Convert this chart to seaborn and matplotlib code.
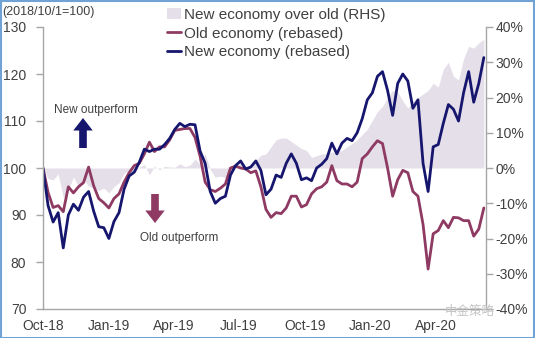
import numpy as np
import pandas as pd
import matplotlib
matplotlib.use("Agg")
import matplotlib.pyplot as plt
import matplotlib.dates as mdates
from matplotlib.patches import Rectangle, Patch, FancyArrowPatch
from matplotlib.lines import Line2D
import seaborn as sns

# ---------------- data (weekly readings) ----------------
start_date = "2018-10-01"
end_date = "2020-06-07"

new_economy = [
    100, 92, 88.5, 90.5, 83, 90, 92.3, 91, 93.8, 95,
    90.8, 87.5, 87.3, 85, 88.6, 90.5, 95.5, 98.3, 99.1, 101.2,
    104, 103.5, 104, 104, 105, 106.3, 108.2, 109.5, 108.8, 109.3,
    109.2, 103.6, 101, 95, 92.5, 93.5, 94, 98.5, 100.5, 101.5,
    99.8, 100.2, 101.5, 99.5, 94.3, 95.5, 98.5, 98, 101, 103,
    101, 97.5, 97.9, 97.3, 100, 100.8, 102, 105.3, 103, 105.3,
    106.3, 105.8, 107.5, 110.5, 114.5, 116, 119.5, 120.5, 116.5, 111.2,
    118, 120, 118.5, 112.7, 114.5, 101, 95, 104.5, 105, 109.5,
    113.5, 112.5, 110, 116, 120.5, 114, 118, 123.5,
]
old_economy = [
    100, 94.8, 91.6, 92, 90.7, 96, 94.7, 96, 96.9, 100.2,
    96.2, 93.5, 92.6, 91.5, 93.5, 94.5, 97, 99, 100.5, 101,
    103, 105.5, 103.5, 104.5, 104.5, 106, 108, 108.2, 108.4, 108.4,
    106.5, 102.5, 97, 95.4, 95, 95.7, 96.6, 100, 100.4, 100,
    99.8, 99, 99.4, 96, 91.2, 89.5, 90.5, 90.3, 91.5, 94,
    94, 91.7, 92.2, 94.5, 95.6, 96, 97, 100.5, 97.3, 96.6,
    96.6, 96, 97, 102, 103, 104.5, 105.8, 105.2, 100, 94,
    97.5, 99.5, 99, 95, 94, 88, 78.5, 86, 86.7, 88.8,
    87.3, 89.5, 89.4, 88.8, 88.8, 85.5, 87, 91.5,
]
new_over_old = [
    0, -3, -3.4, -1.6, -8.5, -6.3, -2.5, -5.2, -3.2, -5.2,
    -5.6, -6.4, -5.7, -7.1, -5.2, -4.2, -1.5, -0.7, -1.4, 0.2,
    1, -1.9, 0.5, -0.5, 0.5, 0.3, 0.2, 1.2, 0.4, 0.8,
    2.5, 1.1, 4.1, -0.4, -2.6, -2.3, -2.7, -1.5, 0.1, 1.5,
    0, 1.2, 2.1, 3.6, 4, 6, 8, 8.5, 8.5, 7.5,
    6.5, 5.5, 5, 3, 3.5, 4, 4, 4.5, 4.5, 5,
    6, 7, 8, 9.5, 11, 13.5, 16, 17.5, 20, 22,
    21.5, 19, 17, 19, 20, 21, 22, 24, 23, 28,
    30, 26, 25, 31, 34.5, 34, 35.5, 36.5,
]
left_ticks = [70, 80, 90, 100, 110, 120, 130]
right_ticks = [-40, -30, -20, -10, 0, 10, 20, 30, 40]

dates = pd.date_range(start_date, end_date, periods=len(new_economy))
df = pd.DataFrame({"date": dates, "new": new_economy, "old": old_economy,
                   "ratio": new_over_old})

# ---------------- style ----------------
sns.set_style("white")
plt.rcParams["font.family"] = ["Liberation Sans", "DejaVu Sans"]

NAVY = "#16166e"
MAROON = "#8e3a63"
AREA = "#e4dfe9"
GREY_TXT = "#404040"
SPINE = "#a6a6a6"
LW = 2.0

W, H = 535, 338
fig = plt.figure(figsize=(W / 100, H / 100), dpi=100)
ax = fig.add_axes([43 / W, 1 - 309 / H, (486 - 43) / W, (309 - 27) / H])
ax_r = ax.twinx()
ax.set_zorder(ax_r.get_zorder() + 1)
ax.patch.set_visible(False)

# area on right axis
ax_r.fill_between(df["date"], 0, df["ratio"], color=AREA, lw=0)
ax_r.set_ylim(-40, 40)
ax_r.set_yticks(right_ticks)
ax_r.set_yticklabels([f"{v}%" for v in right_ticks])

# lines on left axis
sns.lineplot(data=df, x="date", y="old", ax=ax, color=MAROON, lw=LW)
sns.lineplot(data=df, x="date", y="new", ax=ax, color=NAVY, lw=LW)
ax.set_ylim(70, 130)
ax.set_yticks(left_ticks)
ax.set_xlim(pd.Timestamp("2018-10-01"), pd.Timestamp("2020-06-10"))
ax.xaxis.set_major_locator(mdates.MonthLocator(bymonth=[1, 4, 7, 10]))
ax.xaxis.set_major_formatter(mdates.DateFormatter("%b-%y"))
ax.set_xlabel("")
ax.set_ylabel("")

for a in (ax, ax_r):
    for s in a.spines.values():
        s.set_visible(False)
ax.spines["left"].set_visible(True)
ax.spines["bottom"].set_visible(True)
ax_r.spines["right"].set_visible(True)
for s in (ax.spines["left"], ax.spines["bottom"], ax_r.spines["right"]):
    s.set_color(SPINE)
    s.set_linewidth(1.0)

ax.tick_params(axis="y", which="major", direction="out", length=5, width=1,
               color=SPINE, labelsize=10, labelcolor=GREY_TXT, pad=7)
ax.tick_params(axis="x", which="major", direction="out", length=4, width=1,
               color=SPINE, labelsize=10, labelcolor=GREY_TXT, pad=3)
ax_r.tick_params(axis="y", which="major", direction="out", length=5, width=1,
                 color=SPINE, labelsize=10, labelcolor=GREY_TXT, pad=2)

# legend
handles = [
    Patch(facecolor=AREA, edgecolor="none", label="New economy over old (RHS)"),
    Line2D([], [], color=MAROON, lw=LW, label="Old economy (rebased)"),
    Line2D([], [], color=NAVY, lw=LW, label="New economy (rebased)"),
]
fig.legend(handles=handles, loc="upper left",
           bbox_to_anchor=(158 / W, 1 + 1 / H), frameon=False,
           fontsize=11, handlelength=0.9, handletextpad=0.2,
           labelspacing=0.3, borderpad=0.1, labelcolor=GREY_TXT)

# texts
fig.text(2 / W, 1 - 12 / H, "(2018/10/1=100)", fontsize=9, color=GREY_TXT,
         va="center", ha="left")
fig.text(96 / W, 1 - 110 / H, "New outperform", fontsize=8.5, color=GREY_TXT,
         va="center", ha="center")
fig.text(179 / W, 1 - 238 / H, "Old outperform", fontsize=8.5, color=GREY_TXT,
         va="center", ha="center")
fig.text(470 / W, 1 - 311 / H, "中金策略", fontsize=9, color="#c4c4c4",
         va="center", ha="center", family=["Noto Sans CJK SC", "DejaVu Sans"])

# arrows
arrow_kw = dict(arrowstyle="simple,head_length=0.9,head_width=1.4,tail_width=0.55",
                mutation_scale=10, shrinkA=0, shrinkB=0, lw=0)
fig.add_artist(FancyArrowPatch(
    (83 / W, 1 - 148 / H), (83 / W, 1 - 118 / H), transform=fig.transFigure,
    color=NAVY, **arrow_kw))
fig.add_artist(FancyArrowPatch(
    (155 / W, 1 - 194 / H), (155 / W, 1 - 223 / H), transform=fig.transFigure,
    color=MAROON, **arrow_kw))

# outer border
fig.add_artist(Rectangle((0.5 / W, 0.5 / H), 1 - 1.5 / W, 1 - 1.5 / H,
                         transform=fig.transFigure, fill=False,
                         edgecolor="#6fa3d6", lw=1.5))

fig.savefig("out.png", dpi=100)
